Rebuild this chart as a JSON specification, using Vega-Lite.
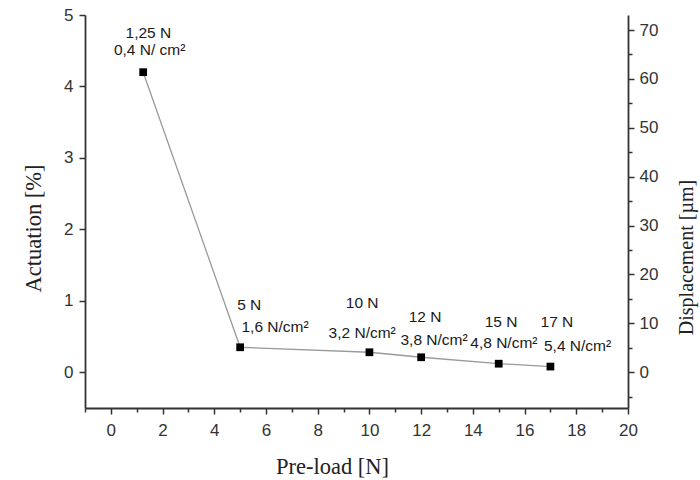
{
  "$schema": "https://vega.github.io/schema/vega-lite/v6.json",
  "width": 543,
  "height": 393,
  "autosize": {"type": "none"},
  "padding": {"left": 85, "top": 15, "right": 72, "bottom": 72},
  "background": "white",
  "config": {
    "view": {"stroke": null},
    "axis": {
      "domainColor": "#333333",
      "domainWidth": 1.8,
      "tickColor": "#333333",
      "tickWidth": 1.5,
      "labelFont": "Liberation Sans",
      "labelFontSize": 17,
      "labelColor": "#333333",
      "labelOverlap": false,
      "labelFlush": false,
      "titleFont": "Liberation Serif",
      "titleFontSize": 22.5,
      "titleFontWeight": "normal",
      "titleColor": "#222222",
      "grid": false
    }
  },
  "datasets": {
    "points": [
      {"preload": 1.25, "actuation": 4.2, "displacement": 61.4},
      {"preload": 5, "actuation": 0.35, "displacement": 5.1},
      {"preload": 10, "actuation": 0.28, "displacement": 4.1},
      {"preload": 12, "actuation": 0.21, "displacement": 3.1},
      {"preload": 15, "actuation": 0.12, "displacement": 1.8},
      {"preload": 17, "actuation": 0.08, "displacement": 1.2}
    ],
    "labels": [
      {"label": "1,25 N", "lx": 1.45, "ly": 4.75},
      {"label": "0,4 N/ cm²", "lx": 1.5, "ly": 4.51},
      {"label": "5 N", "lx": 5.35, "ly": 0.94},
      {"label": "1,6 N/cm²", "lx": 6.35, "ly": 0.63},
      {"label": "10 N", "lx": 9.72, "ly": 0.966},
      {"label": "3,2 N/cm²", "lx": 9.72, "ly": 0.55},
      {"label": "12 N", "lx": 12.15, "ly": 0.77},
      {"label": "3,8 N/cm²", "lx": 12.5, "ly": 0.45},
      {"label": "15 N", "lx": 15.09, "ly": 0.70},
      {"label": "4,8 N/cm²", "lx": 15.2, "ly": 0.41},
      {"label": "17 N", "lx": 17.25, "ly": 0.70},
      {"label": "5,4 N/cm²", "lx": 18.05, "ly": 0.365}
    ]
  },
  "encoding": {
    "x": {
      "field": "preload", "type": "quantitative",
      "scale": {"domain": [-1, 20], "nice": false, "zero": false},
      "axis": {
        "title": "Pre-load [N]",
        "values": [-1,0,1,2,3,4,5,6,7,8,9,10,11,12,13,14,15,16,17,18,19,20],
        "labelExpr": "abs(datum.value % 2) < 0.01 ? format(datum.value, 'd') : ''",
        "tickSize": {"condition": {"test": "abs(datum.value % 2) > 0.01", "value": 4}, "value": 6},
        "labelOverlap": false,
        "labelPadding": 8,
        "titleX": 247,
        "titleY": 65,
        "titleBaseline": "alphabetic"
      }
    }
  },
  "layer": [
    {
      "layer": [
        {
          "data": {"name": "points"},
          "mark": {"type": "line", "color": "#9a9a9a", "strokeWidth": 1.3},
          "encoding": {
            "y": {
              "field": "actuation", "type": "quantitative",
              "scale": {"domain": [-0.5, 5], "nice": false, "zero": false},
              "axis": {
                "orient": "left",
                "title": "Actuation [%]",
                "values": [0, 0.5, 1, 1.5, 2, 2.5, 3, 3.5, 4, 4.5, 5],
                "labelExpr": "datum.value % 1 === 0 ? format(datum.value, 'd') : ''",
                "tickSize": {"condition": {"test": "datum.value % 1 !== 0", "value": 4}, "value": 6},
                "labelPadding": 6,
                "titleX": -52,
                "titleY": 213,
                "titleAngle": -90,
                "titleBaseline": "middle",
                "titleAlign": "center"
              }
            }
          }
        },
        {
          "data": {"name": "points"},
          "mark": {"type": "square", "filled": true, "color": "#000000", "size": 60, "opacity": 1},
          "encoding": {
            "y": {"field": "actuation", "type": "quantitative"}
          }
        },
        {
          "data": {"name": "labels"},
          "mark": {"type": "text", "font": "Liberation Sans", "fontSize": 15.5, "color": "#1a1a1a", "baseline": "middle", "align": "center"},
          "encoding": {
            "x": {"field": "lx", "type": "quantitative"},
            "y": {"field": "ly", "type": "quantitative"},
            "text": {"field": "label"}
          }
        }
      ]
    },
    {
      "data": {"name": "points"},
      "mark": {"type": "point", "opacity": 0},
      "encoding": {
        "y": {
          "field": "displacement", "type": "quantitative",
          "scale": {"domain": [-7.31, 73.07], "nice": false, "zero": false},
          "axis": {
            "orient": "right",
            "title": "Displacement [µm]",
            "titleFontSize": 20,
            "values": [-5, 0, 5, 10, 15, 20, 25, 30, 35, 40, 45, 50, 55, 60, 65, 70],
            "labelExpr": "datum.value % 10 === 0 ? format(datum.value, 'd') : ''",
            "tickSize": {"condition": {"test": "datum.value % 10 !== 0", "value": 4}, "value": 6},
            "labelPadding": 5,
            "titleX": 58,
            "titleY": 242,
            "titleAngle": -90,
            "titleBaseline": "middle",
            "titleAlign": "center"
          }
        }
      }
    }
  ],
  "resolve": {"scale": {"y": "independent"}}
}
